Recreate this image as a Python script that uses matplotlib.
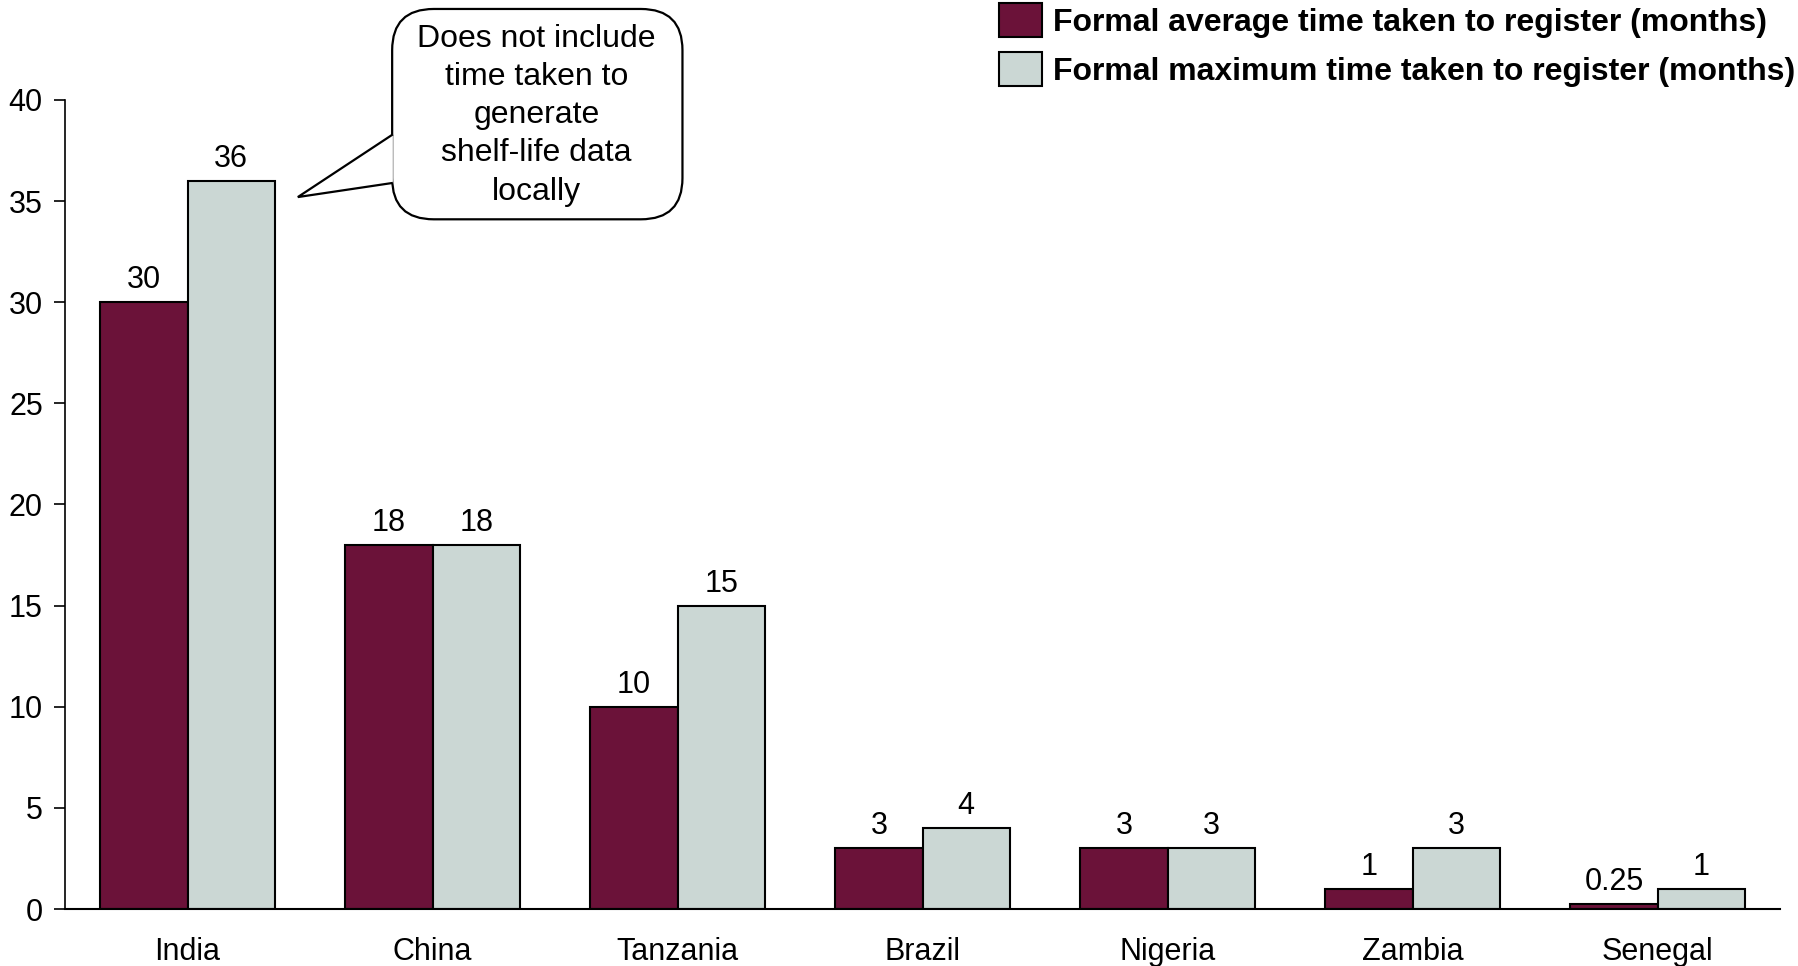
import numpy as np
import matplotlib.pyplot as plt
from matplotlib.patches import FancyBboxPatch, Polygon

# -----------------------------
# Data
# -----------------------------
countries = ["India", "China", "Tanzania", "Brazil", "Nigeria", "Zambia", "Senegal"]
avg_months = [30, 18, 10, 3, 3, 1, 0.25]
max_months = [36, 18, 15, 4, 3, 3, 1]
avg_labels = ["30", "18", "10", "3", "3", "1", "0.25"]
max_labels = ["36", "18", "15", "4", "3", "3", "1"]

avg_name = "Formal average time taken to register (months)"
max_name = "Formal maximum time taken to register (months)"
callout_text = "Does not include\ntime taken to\ngenerate\nshelf-life data\nlocally"

maroon = "#6B1239"
grey = "#CBD7D4"

plt.rcParams['font.family'] = ['Liberation Sans', 'DejaVu Sans']

fig = plt.figure(figsize=(17.98, 9.66), dpi=100)
ax = fig.add_axes([0.0362, 0.059, 0.9538, 0.8375])

x = np.arange(len(countries))
w = 0.356

bars_avg = ax.bar(x - w / 2, avg_months, w, color=maroon, edgecolor="black",
                  linewidth=1.5, label=avg_name)
bars_max = ax.bar(x + w / 2, max_months, w, color=grey, edgecolor="black",
                  linewidth=1.5, label=max_name)

# value labels above bars
for bars, labels in [(bars_avg, avg_labels), (bars_max, max_labels)]:
    for b, lab in zip(bars, labels):
        ax.annotate(lab, (b.get_x() + b.get_width() / 2, b.get_height()),
                    xytext=(0, 5), textcoords="offset points",
                    ha="center", va="bottom", fontsize=22)

ax.set_xlim(-0.5, 6.5)
ax.set_ylim(0, 40)
ax.set_yticks(range(0, 41, 5))
ax.set_xticks(x)
ax.set_xticklabels(countries)
ax.tick_params(axis="y", labelsize=22, length=8, width=1.2, pad=8)
ax.tick_params(axis="x", labelsize=22, length=0, pad=20)
for s in ["top", "right"]:
    ax.spines[s].set_visible(False)
ax.spines["left"].set_linewidth(1.2)
ax.spines["bottom"].set_linewidth(1.5)

# -----------------------------
# Callout bubble
# -----------------------------
box = FancyBboxPatch((0.835, 34.1), 2.02 - 0.835, 44.5 - 34.1,
                     boxstyle="round,pad=0,rounding_size=0.17",
                     mutation_aspect=12.0,
                     facecolor="white", edgecolor="black", linewidth=1.6,
                     clip_on=False, zorder=5)
ax.add_patch(box)
tail = Polygon([(0.838, 38.3), (0.45, 35.2), (0.838, 35.9)], closed=False,
               facecolor="white", edgecolor="black", linewidth=1.6,
               clip_on=False, zorder=6, joinstyle="miter")
ax.add_patch(tail)
ax.text(1.425, 39.25, callout_text, ha="center", va="center", fontsize=23,
        linespacing=1.36, zorder=7)

# -----------------------------
# Legend
# -----------------------------
fig.legend(handles=[bars_avg, bars_max], labels=[avg_name, max_name],
           loc="upper left", bbox_to_anchor=(999 / 1798, 1 - 3 / 966),
           frameon=False, borderpad=0, borderaxespad=0,
           handlelength=1.35, handleheight=1.25, handletextpad=0.35,
           labelspacing=0.45,
           prop={"weight": "bold", "size": 23})

plt.savefig("out.png", dpi=100)
